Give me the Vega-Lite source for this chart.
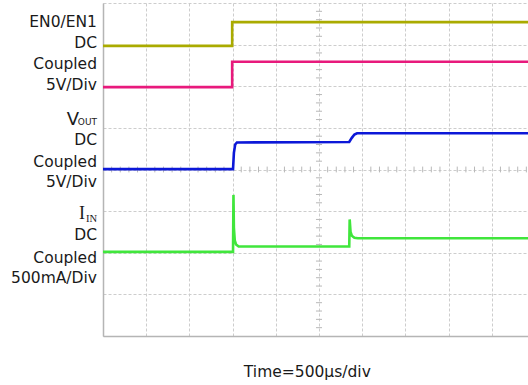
{
  "$schema": "https://vega.github.io/schema/vega-lite/v6.json",
  "width": 425,
  "height": 333,
  "autosize": {"type": "none"},
  "padding": {"left": 103, "top": 3, "right": 0, "bottom": 49},
  "background": "white",
  "config": {
    "view": {"stroke": null},
    "axisX": {"values": [1, 2, 3, 4, 5, 6, 7, 8, 9], "grid": true, "gridColor": "#cdcdcd", "gridDash": [3, 2], "gridWidth": 1, "labels": false, "ticks": false, "title": null, "domain": true, "domainColor": "#b5b5b5", "domainWidth": 1.5},
    "axisY": {"values": [1, 2, 3, 4, 5, 6, 7], "grid": true, "gridColor": "#cdcdcd", "gridDash": [3, 2], "gridWidth": 1, "labels": false, "ticks": false, "title": null, "domain": true, "domainColor": "#b5b5b5", "domainWidth": 1.5}
  },
  "datasets": {
    "traces": [
      {"ch": "EN0", "i": 0, "x": 0, "y": 6.97},
      {"ch": "EN0", "i": 1, "x": 2.99, "y": 6.97},
      {"ch": "EN0", "i": 2, "x": 2.99, "y": 7.54},
      {"ch": "EN0", "i": 3, "x": 9.84, "y": 7.54},
      {"ch": "EN1", "i": 0, "x": 0, "y": 5.98},
      {"ch": "EN1", "i": 1, "x": 2.99, "y": 5.98},
      {"ch": "EN1", "i": 2, "x": 2.99, "y": 6.59},
      {"ch": "EN1", "i": 3, "x": 9.84, "y": 6.59},
      {"ch": "VOUT", "i": 0, "x": 0, "y": 4.01},
      {"ch": "VOUT", "i": 1, "x": 3.01, "y": 4.01},
      {"ch": "VOUT", "i": 2, "x": 3.03, "y": 4.4},
      {"ch": "VOUT", "i": 3, "x": 3.06, "y": 4.6},
      {"ch": "VOUT", "i": 4, "x": 3.1, "y": 4.65},
      {"ch": "VOUT", "i": 5, "x": 5.7, "y": 4.66},
      {"ch": "VOUT", "i": 6, "x": 5.76, "y": 4.76},
      {"ch": "VOUT", "i": 7, "x": 5.82, "y": 4.84},
      {"ch": "VOUT", "i": 8, "x": 5.88, "y": 4.87},
      {"ch": "VOUT", "i": 9, "x": 9.84, "y": 4.87},
      {"ch": "IIN", "i": 0, "x": 0, "y": 2.02},
      {"ch": "IIN", "i": 1, "x": 3.01, "y": 2.02},
      {"ch": "IIN", "i": 2, "x": 3.02, "y": 3.39},
      {"ch": "IIN", "i": 3, "x": 3.03, "y": 2.6},
      {"ch": "IIN", "i": 4, "x": 3.05, "y": 2.3},
      {"ch": "IIN", "i": 5, "x": 3.08, "y": 2.2},
      {"ch": "IIN", "i": 6, "x": 3.14, "y": 2.15},
      {"ch": "IIN", "i": 7, "x": 5.7, "y": 2.15},
      {"ch": "IIN", "i": 8, "x": 5.71, "y": 2.8},
      {"ch": "IIN", "i": 9, "x": 5.73, "y": 2.5},
      {"ch": "IIN", "i": 10, "x": 5.76, "y": 2.41},
      {"ch": "IIN", "i": 11, "x": 5.82, "y": 2.36},
      {"ch": "IIN", "i": 12, "x": 5.9, "y": 2.35},
      {"ch": "IIN", "i": 13, "x": 9.84, "y": 2.35}
    ],
    "vticks": [
      {"y": 0.2}, {"y": 0.4}, {"y": 0.6}, {"y": 0.8}, {"y": 1.2}, {"y": 1.4}, {"y": 1.6}, {"y": 1.8},
      {"y": 2.2}, {"y": 2.4}, {"y": 2.6}, {"y": 2.8}, {"y": 3.2}, {"y": 3.4}, {"y": 3.6}, {"y": 3.8},
      {"y": 4.2}, {"y": 4.4}, {"y": 4.6}, {"y": 4.8}, {"y": 5.2}, {"y": 5.4}, {"y": 5.6}, {"y": 5.8},
      {"y": 6.2}, {"y": 6.4}, {"y": 6.6}, {"y": 6.8}, {"y": 7.2}, {"y": 7.4}, {"y": 7.6}, {"y": 7.8}
    ],
    "hticks": [
      {"x": 0.2}, {"x": 0.4}, {"x": 0.6}, {"x": 0.8}, {"x": 1.2}, {"x": 1.4}, {"x": 1.6}, {"x": 1.8},
      {"x": 2.2}, {"x": 2.4}, {"x": 2.6}, {"x": 2.8}, {"x": 3.2}, {"x": 3.4}, {"x": 3.6}, {"x": 3.8},
      {"x": 4.2}, {"x": 4.4}, {"x": 4.6}, {"x": 4.8}, {"x": 5.2}, {"x": 5.4}, {"x": 5.6}, {"x": 5.8},
      {"x": 6.2}, {"x": 6.4}, {"x": 6.6}, {"x": 6.8}, {"x": 7.2}, {"x": 7.4}, {"x": 7.6}, {"x": 7.8},
      {"x": 8.2}, {"x": 8.4}, {"x": 8.6}, {"x": 8.8}, {"x": 9.2}, {"x": 9.4}, {"x": 9.6}, {"x": 9.8}
    ],
    "labels": [
      {"x": -0.139, "y": 7.42, "text": "EN0/EN1"},
      {"x": -0.139, "y": 6.92, "text": "DC"},
      {"x": -0.139, "y": 6.42, "text": "Coupled"},
      {"x": -0.139, "y": 5.91, "text": "5V/Div"},
      {"x": -0.139, "y": 4.59, "text": "DC"},
      {"x": -0.139, "y": 4.06, "text": "Coupled"},
      {"x": -0.139, "y": 3.58, "text": "5V/Div"},
      {"x": -0.139, "y": 2.31, "text": "DC"},
      {"x": -0.139, "y": 1.75, "text": "Coupled"},
      {"x": -0.139, "y": 1.27, "text": "500mA/Div"}
    ],
    "vlabel": [
      {"x": -0.556, "y": 5.07, "text": "V"}
    ],
    "subs": [
      {"x": -0.139, "y": 5.07, "text": "OUT"}
    ],
    "serif": [
      {"x": -0.417, "y": 2.81, "text": "I"}
    ],
    "serifsub": [
      {"x": -0.139, "y": 2.74, "text": "IN"}
    ],
    "xlabel": [
      {"x": 4.73, "y": -0.99, "text": "Time=500µs/div"}
    ]
  },
  "layer": [
    {
      "mark": {"type": "rule", "color": "#c8c8d4", "strokeWidth": 1.5},
      "encoding": {
        "y": {"datum": 8, "type": "quantitative", "scale": {"domain": [0, 8], "nice": false, "zero": false}}
      }
    },
    {
      "data": {"name": "vticks"},
      "mark": {"type": "rule", "color": "#b8b8b8", "strokeWidth": 1},
      "encoding": {
        "y": {"field": "y", "type": "quantitative", "scale": {"domain": [0, 8], "nice": false, "zero": false}},
        "x": {"datum": 4.93, "type": "quantitative", "scale": {"domain": [0, 9.838], "nice": false, "zero": false}},
        "x2": {"datum": 5.07}
      }
    },
    {
      "data": {"name": "hticks"},
      "mark": {"type": "rule", "color": "#b8b8b8", "strokeWidth": 1},
      "encoding": {
        "x": {"field": "x", "type": "quantitative", "scale": {"domain": [0, 9.838], "nice": false, "zero": false}},
        "y": {"datum": 3.93, "type": "quantitative", "scale": {"domain": [0, 8], "nice": false, "zero": false}},
        "y2": {"datum": 4.07}
      }
    },
    {
      "data": {"name": "traces"},
      "mark": {"type": "line", "clip": true, "strokeCap": "butt", "strokeJoin": "miter"},
      "encoding": {
        "x": {"field": "x", "type": "quantitative", "scale": {"domain": [0, 9.838], "nice": false, "zero": false}},
        "y": {"field": "y", "type": "quantitative", "scale": {"domain": [0, 8], "nice": false, "zero": false}},
        "order": {"field": "i", "type": "quantitative"},
        "color": {"field": "ch", "type": "nominal", "legend": null, "scale": {"domain": ["EN0", "EN1", "VOUT", "IIN"], "range": ["#aaab00", "#e8197c", "#0c18d8", "#40e63c"]}},
        "strokeWidth": {"field": "ch", "type": "nominal", "legend": null, "scale": {"domain": ["EN0", "EN1", "VOUT", "IIN"], "range": [2.6, 2.6, 3.2, 1.7]}}
      }
    },
    {
      "data": {"name": "labels"},
      "mark": {"type": "text", "align": "right", "baseline": "alphabetic", "font": "DejaVu Sans", "fontSize": 15.5, "color": "#1a1a1a"},
      "encoding": {
        "x": {"field": "x", "type": "quantitative", "scale": {"domain": [0, 9.838], "nice": false, "zero": false}},
        "y": {"field": "y", "type": "quantitative", "scale": {"domain": [0, 8], "nice": false, "zero": false}},
        "text": {"field": "text"}
      }
    },
    {
      "data": {"name": "vlabel"},
      "mark": {"type": "text", "align": "right", "baseline": "alphabetic", "font": "DejaVu Sans", "fontSize": 18, "color": "#1a1a1a"},
      "encoding": {
        "x": {"field": "x", "type": "quantitative", "scale": {"domain": [0, 9.838], "nice": false, "zero": false}},
        "y": {"field": "y", "type": "quantitative", "scale": {"domain": [0, 8], "nice": false, "zero": false}},
        "text": {"field": "text"}
      }
    },
    {
      "data": {"name": "subs"},
      "mark": {"type": "text", "align": "right", "baseline": "alphabetic", "font": "DejaVu Sans", "fontSize": 9, "color": "#1a1a1a"},
      "encoding": {
        "x": {"field": "x", "type": "quantitative", "scale": {"domain": [0, 9.838], "nice": false, "zero": false}},
        "y": {"field": "y", "type": "quantitative", "scale": {"domain": [0, 8], "nice": false, "zero": false}},
        "text": {"field": "text"}
      }
    },
    {
      "data": {"name": "serif"},
      "mark": {"type": "text", "align": "right", "baseline": "alphabetic", "font": "Liberation Serif", "fontSize": 18, "color": "#1a1a1a"},
      "encoding": {
        "x": {"field": "x", "type": "quantitative", "scale": {"domain": [0, 9.838], "nice": false, "zero": false}},
        "y": {"field": "y", "type": "quantitative", "scale": {"domain": [0, 8], "nice": false, "zero": false}},
        "text": {"field": "text"}
      }
    },
    {
      "data": {"name": "serifsub"},
      "mark": {"type": "text", "align": "right", "baseline": "alphabetic", "font": "Liberation Serif", "fontSize": 10.5, "color": "#1a1a1a"},
      "encoding": {
        "x": {"field": "x", "type": "quantitative", "scale": {"domain": [0, 9.838], "nice": false, "zero": false}},
        "y": {"field": "y", "type": "quantitative", "scale": {"domain": [0, 8], "nice": false, "zero": false}},
        "text": {"field": "text"}
      }
    },
    {
      "data": {"name": "xlabel"},
      "mark": {"type": "text", "align": "center", "baseline": "alphabetic", "font": "DejaVu Sans", "fontSize": 15.5, "color": "#1a1a1a"},
      "encoding": {
        "x": {"field": "x", "type": "quantitative", "scale": {"domain": [0, 9.838], "nice": false, "zero": false}},
        "y": {"field": "y", "type": "quantitative", "scale": {"domain": [0, 8], "nice": false, "zero": false}},
        "text": {"field": "text"}
      }
    }
  ]
}
